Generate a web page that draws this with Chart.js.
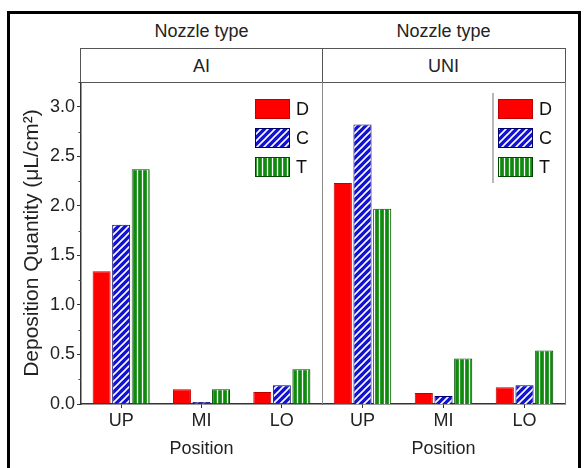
<!DOCTYPE html>
<html>
<head>
<meta charset="utf-8">
<script src="https://cdn.jsdelivr.net/npm/chart.js@4.4.1/dist/chart.umd.min.js"></script>
<style>
body { margin: 0; background: #fff; width: 587px; height: 468px; overflow: hidden; position: relative; font-family: "Liberation Sans", Arial, sans-serif; }
#frame { position: absolute; left: 7px; top: 11px; width: 568px; height: 480px; border: 3px solid #000; }
.hdr { position: absolute; font-size: 18px; color: #222; text-align: center; line-height: 20px; }
#box { position: absolute; left: 80px; top: 48px; width: 484px; height: 33px; border: 1px solid #555; }
#mid { position: absolute; left: 322px; top: 48px; width: 1px; height: 34px; background: #555; }
canvas { position: absolute; top: 82px; }
</style>
</head>
<body>
<div id="frame"></div>
<div class="hdr" style="left:81px;width:241px;top:21px;">Nozzle type</div>
<div class="hdr" style="left:322px;width:243px;top:21px;">Nozzle type</div>
<div id="box"></div>
<div id="mid"></div>
<div class="hdr" style="left:81px;width:241px;top:56px;">AI</div>
<div class="hdr" style="left:322px;width:243px;top:56px;">UNI</div>
<canvas id="chartAI" width="323" height="386" style="left:0px;"></canvas>
<canvas id="chartUNI" width="259" height="386" style="left:322px;"></canvas>
<script>
const positions = ['UP', 'MI', 'LO'];
const seriesNames = ['D', 'C', 'T'];
// AI nozzle
const aiD = [1.34, 0.15, 0.12];
const aiC = [1.81, 0.02, 0.19];
const aiT = [2.37, 0.15, 0.35];
// UNI nozzle
const uniD = [2.23, 0.11, 0.17];
const uniC = [2.82, 0.08, 0.19];
const uniT = [1.97, 0.46, 0.54];

Chart.defaults.font.family = '"Liberation Sans", Arial, sans-serif';
Chart.defaults.font.size = 18;
Chart.defaults.color = '#222';

function makePattern(bg, kind) {
  const c = document.createElement('canvas');
  const s = kind === 'diag' ? 7 : 5;
  c.width = s; c.height = s;
  const g = c.getContext('2d');
  g.fillStyle = bg;
  g.fillRect(0, 0, s, s);
  g.strokeStyle = '#fff';
  g.beginPath();
  if (kind === 'diag') {
    g.lineWidth = 1.6;
    g.moveTo(0, s); g.lineTo(s, 0);
    g.moveTo(-1, 1); g.lineTo(1, -1);
    g.moveTo(s - 1, s + 1); g.lineTo(s + 1, s - 1);
  } else {
    g.lineWidth = 1.3;
    g.moveTo(2.5, 0); g.lineTo(2.5, s);
  }
  g.stroke();
  return g.createPattern(c, 'repeat');
}

const fillD = '#ff0000';
const fillC = makePattern('#1212d2', 'diag');
const fillT = makePattern('#0f8a0f', 'vert');
const edgeD = '#c00000';
const edgeC = '#00006a';
const edgeT = '#004a00';

function datasets(d, c, t) {
  return [
    { label: seriesNames[0], data: d, backgroundColor: fillD, borderColor: edgeD, borderWidth: 1 },
    { label: seriesNames[1], data: c, backgroundColor: fillC, borderColor: edgeC, borderWidth: 1 },
    { label: seriesNames[2], data: t, backgroundColor: fillT, borderColor: edgeT, borderWidth: 1 },
  ];
}

// legend boxes inside the plot
const boxLegend = {
  id: 'boxLegend',
  afterDatasetsDraw(chart, args, opts) {
    const ctx = chart.ctx;
    const a = chart.chartArea;
    ctx.save();
    chart.data.datasets.forEach((ds, i) => {
      const x = a.left + opts.x;
      const y = a.top + opts.y + i * 29;
      ctx.fillStyle = ds.backgroundColor;
      ctx.fillRect(x, y, 35, 20);
      ctx.strokeStyle = ds.borderColor;
      ctx.lineWidth = 1;
      ctx.strokeRect(x + 0.5, y + 0.5, 34, 19);
      ctx.fillStyle = '#111';
      ctx.font = '18px "Liberation Sans", Arial, sans-serif';
      ctx.textBaseline = 'middle';
      ctx.fillText(ds.label, x + 41, y + 11);
    });
    if (opts.bar) {
      ctx.strokeStyle = '#888';
      ctx.lineWidth = 1.2;
      ctx.beginPath();
      ctx.moveTo(a.left + opts.x - 5, a.top + opts.y - 6);
      ctx.lineTo(a.left + opts.x - 5, a.top + opts.y + 84);
      ctx.stroke();
    }
    ctx.restore();
  }
};

// minor ticks on y axis
const minorTicks = {
  id: 'minorTicks',
  afterDraw(chart) {
    const s = chart.scales.y;
    if (!s.options.display) return;
    const ctx = chart.ctx;
    ctx.save();
    ctx.strokeStyle = '#444';
    ctx.lineWidth = 1;
    for (let v = 0.25; v <= 3.25; v += 0.5) {
      const y = Math.round(s.getPixelForValue(v)) + 0.5;
      ctx.beginPath();
      ctx.moveTo(s.right - 2.5, y);
      ctx.lineTo(s.right, y);
      ctx.stroke();
    }
    ctx.restore();
  }
};

// panel frame lines for the right panel
const panelFrame = {
  id: 'panelFrame',
  afterDraw(chart, args, opts) {
    if (!opts.draw) return;
    const ctx = chart.ctx;
    const a = chart.chartArea;
    ctx.save();
    ctx.lineWidth = 1;
    ctx.strokeStyle = '#8a8a8a';
    ctx.beginPath();
    ctx.moveTo(a.left + 0.5, a.top);
    ctx.lineTo(a.left + 0.5, a.bottom);
    ctx.stroke();
    ctx.strokeStyle = '#777';
    ctx.beginPath();
    ctx.moveTo(a.right + 0.5, a.top);
    ctx.lineTo(a.right + 0.5, a.bottom);
    ctx.stroke();
    ctx.restore();
  }
};

function options(showY, legendOpts, frame, padRight) {
  return {
    responsive: false,
    animation: false,
    events: [],
    layout: { padding: { left: 0, right: padRight, top: 0, bottom: 0 } },
    datasets: { bar: { categoryPercentage: 0.73, barPercentage: 0.92 } },
    plugins: {
      legend: { display: false },
      tooltip: { enabled: false },
      boxLegend: legendOpts,
      panelFrame: { draw: frame },
    },
    scales: {
      x: {
        grid: { drawOnChartArea: false, offset: false, tickLength: 4, color: '#333' },
        border: { color: '#333', width: 1.5 },
        ticks: { padding: 2, color: '#222' },
        title: { display: true, text: 'Position', padding: { top: 0, bottom: 8 }, color: '#222' },
        afterFit(scale) {
          scale.height = 64;
          scale.paddingLeft = 0;
          scale.paddingRight = 0;
        },
      },
      y: {
        display: showY,
        min: 0,
        max: 3.25,
        grid: { drawOnChartArea: false, tickLength: 4, color: '#333' },
        border: { color: '#333', width: 1.5 },
        ticks: { stepSize: 0.5, includeBounds: false, padding: 2, color: '#222', callback: v => v.toFixed(1) },
        title: {
          display: true,
          text: 'Deposition Quantity (μL/cm²)',
          font: { size: 21 },
          padding: { top: 20, bottom: 0 },
          color: '#222',
        },
        afterFit(scale) {
          scale.width = scale.options.display ? 81 : 0;
          scale.paddingTop = 0;
          scale.paddingBottom = 0;
        },
      },
    },
  };
}

new Chart(document.getElementById('chartAI'), {
  type: 'bar',
  data: { labels: positions, datasets: datasets(aiD, aiC, aiT) },
  options: options(true, { x: 174, y: 17, bar: false }, false, 1),
  plugins: [boxLegend, minorTicks, panelFrame],
});

new Chart(document.getElementById('chartUNI'), {
  type: 'bar',
  data: { labels: positions, datasets: datasets(uniD, uniC, uniT) },
  options: options(false, { x: 176, y: 17, bar: true }, true, 16),
  plugins: [boxLegend, minorTicks, panelFrame],
});
</script>
</body>
</html>
